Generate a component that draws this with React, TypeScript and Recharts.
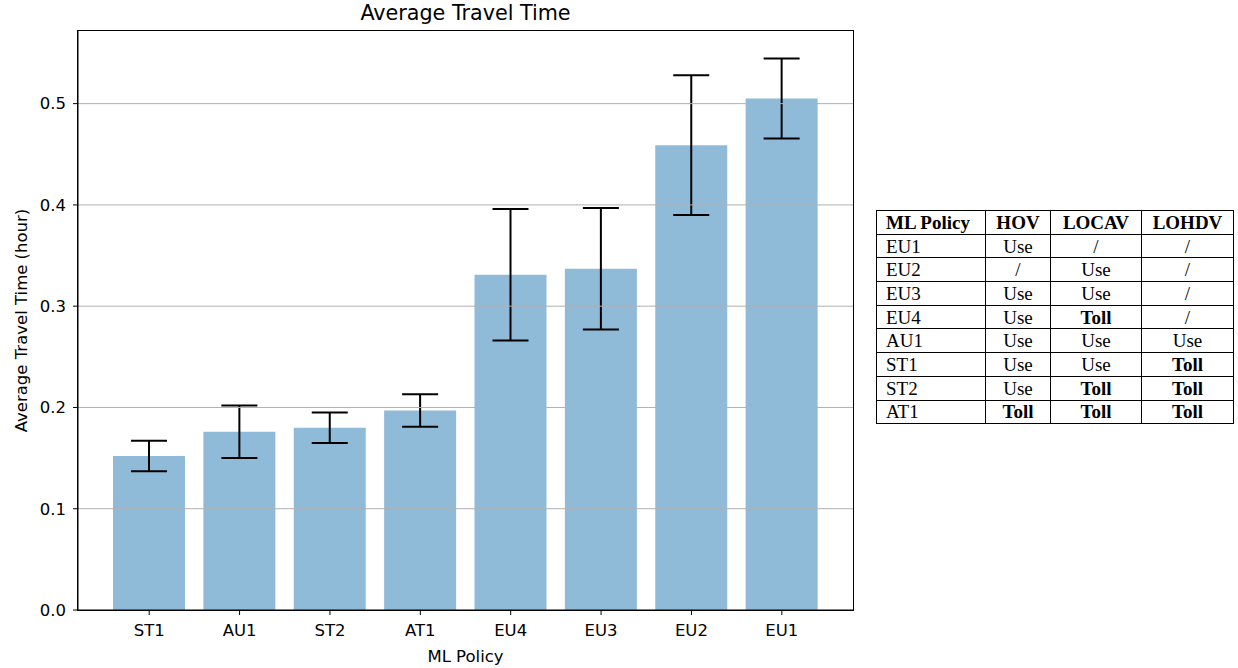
import React from "react";
import { BarChart, Bar, XAxis, YAxis, ErrorBar, ReferenceLine, Label } from "recharts";

const policies = ["ST1", "AU1", "ST2", "AT1", "EU4", "EU3", "EU2", "EU1"];
const meanTimes = [0.152, 0.176, 0.18, 0.197, 0.331, 0.337, 0.459, 0.505];
const stdTimes = [0.015, 0.026, 0.015, 0.016, 0.065, 0.06, 0.069, 0.0395];
const yTicks = [0, 0.1, 0.2, 0.3, 0.4, 0.5];
const gridTicks = [0.1, 0.2, 0.3, 0.4, 0.5];

const tableHeader = ["ML Policy", "HOV", "LOCAV", "LOHDV"];
const tablePolicies = ["EU1", "EU2", "EU3", "EU4", "AU1", "ST1", "ST2", "AT1"];
const hovRules = ["Use", "/", "Use", "Use", "Use", "Use", "Use", "Toll"];
const locavRules = ["/", "Use", "Use", "Toll", "Use", "Use", "Toll", "Toll"];
const lohdvRules = ["/", "/", "/", "/", "Use", "Toll", "Toll", "Toll"];

const data = policies.map((p, i) => ({ policy: p, mean: meanTimes[i], err: stdTimes[i] }));
const yMax = Math.max(...meanTimes.map((m, i) => m + stdTimes[i])) * 1.05;

const font = "'DejaVu Sans', sans-serif";
const tickStyle = { fontSize: 16.5, fill: "#000", fontFamily: font };
const labelStyle = { fontSize: 16.5, fill: "#000", fontFamily: font };

const colWidths = [109, 65, 91, 92];

const cell = (text: string, i: number, header: boolean) => (
  <td
    key={i}
    style={{
      border: "1px solid #000",
      padding: i === 0 ? "0 0 0 9px" : 0,
      textAlign: i === 0 ? "left" : "center",
      fontWeight: header || text === "Toll" ? "bold" : "normal",
      lineHeight: "21px",
    }}
  >
    {text}
  </td>
);

export default function App() {
  return (
    <div style={{ position: "absolute", left: 0, top: 0, width: 1238, height: 668, background: "#fff" }}>
      <div
        style={{
          position: "absolute",
          left: 78,
          top: 1,
          width: 775,
          textAlign: "center",
          fontFamily: font,
          fontSize: 20.7,
          lineHeight: "24px",
          color: "#000",
        }}
      >
        Average Travel Time
      </div>
      <div style={{ position: "absolute", left: 0, top: 0 }}>
        <BarChart width={870} height={668} data={data} margin={{ top: 31, right: 17, left: 0, bottom: 0 }}>
          <XAxis
            dataKey="policy"
            height={58}
            padding={{ left: 26, right: 26 }}
            tick={tickStyle}
            tickSize={5}
            tickMargin={9}
            stroke="#000"
          >
            <Label value="ML Policy" position="insideBottom" offset={6} style={labelStyle} />
          </XAxis>
          <YAxis
            domain={[0, yMax]}
            ticks={yTicks}
            width={78}
            tick={tickStyle}
            tickSize={5}
            tickMargin={7}
            stroke="#000"
            tickFormatter={(v: number) => v.toFixed(1)}
          >
            <Label
              value="Average Travel Time (hour)"
              angle={-90}
              position="insideLeft"
              offset={21}
              style={{ ...labelStyle, textAnchor: "middle" }}
            />
          </YAxis>
          <Bar dataKey="mean" fill="#1f77b4" fillOpacity={0.5} barSize={72} isAnimationActive={false}>
            <ErrorBar dataKey="err" width={18} stroke="#000" strokeWidth={2} isAnimationActive={false} />
          </Bar>
          {gridTicks.map((t) => (
            <ReferenceLine key={t} y={t} stroke="#b0b0b0" strokeWidth={1} />
          ))}
        </BarChart>
      </div>
      <div
        style={{
          position: "absolute",
          left: 77,
          top: 30,
          width: 775,
          height: 579,
          border: "1px solid #000",
          pointerEvents: "none",
        }}
      />
      <table
        style={{
          position: "absolute",
          left: 876,
          top: 210,
          width: 357,
          tableLayout: "fixed",
          borderCollapse: "collapse",
          fontFamily: "'Liberation Serif', serif",
          fontSize: 19,
          color: "#000",
        }}
      >
        <colgroup>
          {colWidths.map((w, i) => (
            <col key={i} style={{ width: w }} />
          ))}
        </colgroup>
        <tbody>
          <tr style={{ height: 23.7 }}>{tableHeader.map((h, i) => cell(h, i, true))}</tr>
          {tablePolicies.map((p, r) => (
            <tr key={p} style={{ height: 23.7 }}>
              {[p, hovRules[r], locavRules[r], lohdvRules[r]].map((t, i) => cell(t, i, false))}
            </tr>
          ))}
        </tbody>
      </table>
    </div>
  );
}
